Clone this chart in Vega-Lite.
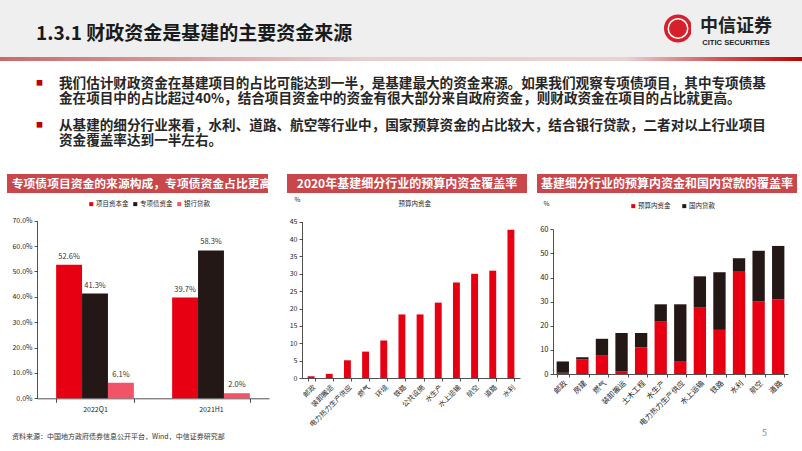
{
  "$schema": "https://vega.github.io/schema/vega-lite/v6.json",
  "padding": 0,
  "background": "white",
  "spacing": 0,
  "resolve": {"scale": {"color": "independent"}, "legend": {"color": "independent"}},
  "config": {
    "font": "Noto Sans CJK SC",
    "view": {"stroke": null},
    "axis": {"labelFontSize": 7, "labelColor": "#262626", "domainColor": "#262626", "tickColor": "#262626", "tickSize": 3, "domainWidth": 0.8, "tickWidth": 0.8, "grid": false, "labelFont": "Noto Sans CJK SC", "titleFont": "Noto Sans CJK SC", "labelPadding": 2},
    "legend": {"labelFontSize": 6.5, "symbolSize": 16, "symbolType": "square", "labelOffset": 1.5, "columnPadding": 3, "padding": 0, "direction": "horizontal", "symbolStrokeWidth": 0, "labelColor": "#262626", "labelFont": "Noto Sans CJK SC"}
  },
  "vconcat": [
    {
      "hconcat": [
        {
          "width": 665, "height": 57, "view": {"fill": "#efefef", "stroke": null},
          "data": {"values": []}, "mark": "point", "encoding": {},
          "title": {"text": "1.3.1 财政资金是基建的主要资金来源", "orient": "bottom", "anchor": "start", "frame": "group", "dx": 36, "offset": -16.6, "baseline": "alphabetic", "fontSize": 19, "fontWeight": "bold", "color": "#1a1a1a"}
        },
        {
          "width": 26, "height": 57, "view": {"fill": "#efefef", "stroke": null},
          "data": {"values": [{"logo": "CITIC"}]},
          "layer": [
            {"mark": {"type": "point", "filled": true, "size": 784, "color": "#d4212b", "opacity": 1}, "encoding": {}},
            {"mark": {"type": "point", "filled": false, "size": 380, "stroke": "white", "strokeWidth": 1.5, "opacity": 1}, "encoding": {}}
          ]
        },
        {
          "width": 90, "height": 57, "view": {"fill": "#efefef", "stroke": null},
          "data": {"values": []}, "mark": "point", "encoding": {},
          "title": {"text": "中信证券", "subtitle": "CITIC SECURITIES", "orient": "bottom", "anchor": "middle", "frame": "group", "offset": -25.2, "baseline": "alphabetic", "fontSize": 18, "fontWeight": "bold", "color": "#222222", "subtitleFont": "Liberation Sans", "subtitleFontSize": 7.6, "subtitleFontWeight": "bold", "subtitleColor": "#222222", "subtitlePadding": -5}
        },
        {"width": 21, "height": 57, "view": {"fill": "#efefef", "stroke": null}, "data": {"values": []}, "mark": "point", "encoding": {}}
      ],
      "spacing": 0, "bounds": "flush"
    },
    {
      "width": 802, "height": 4,
      "view": {"stroke": null, "fill": {"gradient": "linear", "x1": 0, "x2": 1, "y1": 0, "y2": 0, "stops": [{"offset": 0, "color": "#c96a6a"}, {"offset": 0.45, "color": "#e6cfcf"}, {"offset": 0.78, "color": "#e8d2d2"}, {"offset": 0.9, "color": "#d25050"}, {"offset": 1, "color": "#c00000"}]}},
      "data": {"values": []}, "mark": "point", "encoding": {}
    },
    {
      "hconcat": [
        {
          "width": 59, "height": 48, "view": {"stroke": null},
          "data": {"values": []}, "mark": "point", "encoding": {},
          "title": {"text": "■", "orient": "bottom", "anchor": "start", "frame": "group", "dx": 36, "offset": -23.6, "baseline": "alphabetic", "fontSize": 7, "color": "#c00000"}
        },
        {
          "width": 743, "height": 48, "view": {"stroke": null},
          "data": {"values": []}, "mark": "point", "encoding": {},
          "title": {"text": ["我们估计财政资金在基建项目的占比可能达到一半，是基建最大的资金来源。如果我们观察专项债项目，其中专项债基", "金在项目中的占比超过40%，结合项目资金中的资金有很大部分来自政府资金，则财政资金在项目的占比就更高。"], "orient": "bottom", "anchor": "start", "frame": "group", "dx": 0, "offset": -20.8, "baseline": "alphabetic", "fontSize": 13.6, "lineHeight": 14.5, "fontWeight": "bold", "color": "#262626"}
        }
      ],
      "spacing": 0, "bounds": "flush"
    },
    {
      "hconcat": [
        {
          "width": 59, "height": 65, "view": {"stroke": null},
          "data": {"values": []}, "mark": "point", "encoding": {},
          "title": {"text": "■", "orient": "bottom", "anchor": "start", "frame": "group", "dx": 36, "offset": -46.6, "baseline": "alphabetic", "fontSize": 7, "color": "#c00000"}
        },
        {
          "width": 743, "height": 65, "view": {"stroke": null},
          "data": {"values": []}, "mark": "point", "encoding": {},
          "title": {"text": ["从基建的细分行业来看，水利、道路、航空等行业中，国家预算资金的占比较大，结合银行贷款，二者对以上行业项目", "资金覆盖率达到一半左右。"], "orient": "bottom", "anchor": "start", "frame": "group", "dx": 0, "offset": -43.8, "baseline": "alphabetic", "fontSize": 13.6, "lineHeight": 14.5, "fontWeight": "bold", "color": "#262626"}
        }
      ],
      "spacing": 0, "bounds": "flush"
    },
    {
      "hconcat": [
        {"width": 7, "height": 19, "data": {"values": []}, "mark": "point", "encoding": {}},
        {"width": 261, "height": 19, "view": {"fill": "#c9474b", "stroke": null}, "data": {"values": [{"t": "专项债项目资金的来源构成，专项债资金占比更高"}]}, "mark": {"type": "text", "color": "white", "fontSize": 11.8, "fontWeight": "bold", "dx": 4}, "encoding": {"text": {"field": "t"}}},
        {"width": 19, "height": 19, "data": {"values": []}, "mark": "point", "encoding": {}},
        {"width": 240, "height": 19, "view": {"fill": "#c9474b", "stroke": null}, "data": {"values": [{"t": "2020年基建细分行业的预算内资金覆盖率"}]}, "mark": {"type": "text", "color": "white", "fontSize": 12, "fontWeight": "bold"}, "encoding": {"text": {"field": "t"}}},
        {"width": 10, "height": 19, "data": {"values": []}, "mark": "point", "encoding": {}},
        {"width": 260, "height": 19, "view": {"fill": "#c9474b", "stroke": null}, "data": {"values": [{"t": "基建细分行业的预算内资金和国内贷款的覆盖率"}]}, "mark": {"type": "text", "color": "white", "fontSize": 12, "fontWeight": "bold"}, "encoding": {"text": {"field": "t"}}}
      ],
      "spacing": 0, "bounds": "flush"
    },
    {
      "hconcat": [
        {
          "width": 37, "height": 1, "data": {"values": []}, "mark": "point", "encoding": {},
          "title": {"text": "资料来源：中国地方政府债券信息公开平台，Wind，中信证券研究部", "orient": "bottom", "anchor": "start", "frame": "group", "dx": 12, "offset": 244.7, "baseline": "alphabetic", "fontSize": 7, "fontWeight": "normal", "color": "#333333"}
        },
        {
          "width": 232, "height": 205.3,
          "data": {"values": [
            {"period": "2022Q1", "source": "项目资本金", "share": 0.526},
            {"period": "2022Q1", "source": "专项债资金", "share": 0.413},
            {"period": "2022Q1", "source": "银行贷款", "share": 0.061},
            {"period": "2021H1", "source": "项目资本金", "share": 0.397},
            {"period": "2021H1", "source": "专项债资金", "share": 0.583},
            {"period": "2021H1", "source": "银行贷款", "share": 0.020}
          ]},
          "encoding": {
            "x": {"field": "period", "type": "nominal", "sort": ["2022Q1", "2021H1"], "scale": {"paddingInner": 0.33, "paddingOuter": 0.165}, "axis": {"title": null, "labelAngle": 0, "tickBand": "extent", "tickSize": 4, "labelPadding": 3}},
            "xOffset": {"field": "source", "type": "nominal", "sort": ["项目资本金", "专项债资金", "银行贷款"]},
            "y": {"field": "share", "type": "quantitative", "scale": {"domain": [0, 0.7], "range": [205.3, 27.7]}, "axis": {"title": null, "values": [0, 0.1, 0.2, 0.3, 0.4, 0.5, 0.6, 0.7], "format": ".1%"}}
          },
          "layer": [
            {"mark": {"type": "bar"}, "encoding": {"color": {"field": "source", "type": "nominal", "scale": {"domain": ["项目资本金", "专项债资金", "银行贷款"], "range": ["#e60012", "#231815", "#f25467"]}, "legend": {"title": null, "orient": "none", "legendX": 51, "legendY": 7.75}}}},
            {"mark": {"type": "text", "baseline": "bottom", "dy": -4, "fontSize": 7.5, "color": "#333333"}, "encoding": {"text": {"field": "share", "type": "quantitative", "format": ".1%"}}}
          ]
        },
        {
          "width": 33, "height": 1, "data": {"values": []}, "mark": "point", "encoding": {}
        },
        {
          "width": 218, "height": 185,
          "data": {"values": [
            {"industry": "邮政", "value": 0.5},
            {"industry": "装卸搬运", "value": 1.2},
            {"industry": "电力热力生产供应", "value": 5.1},
            {"industry": "燃气", "value": 7.6},
            {"industry": "环境", "value": 10.8},
            {"industry": "铁路", "value": 18.3},
            {"industry": "公共设施", "value": 18.3},
            {"industry": "水生产", "value": 21.7},
            {"industry": "水上运输", "value": 27.5},
            {"industry": "航空", "value": 30.0},
            {"industry": "道路", "value": 30.9},
            {"industry": "水利", "value": 42.7}
          ]},
          "mark": {"type": "bar"},
          "encoding": {
            "x": {"field": "industry", "type": "nominal", "sort": ["邮政", "装卸搬运", "电力热力生产供应", "燃气", "环境", "铁路", "公共设施", "水生产", "水上运输", "航空", "道路", "水利"], "scale": {"paddingInner": 0.62, "paddingOuter": 0.31}, "axis": {"title": null, "labelAngle": -45, "tickBand": "extent", "labelFontSize": 7}},
            "y": {"field": "value", "type": "quantitative", "scale": {"domain": [0, 45], "range": [185, 28.7]}, "axis": {"values": [0, 5, 10, 15, 20, 25, 30, 35, 40, 45], "title": "%", "titleAngle": 0, "titleX": -8, "titleY": 6, "titleAlign": "left", "titleBaseline": "middle", "titleFontSize": 6.5, "titleFontWeight": "normal", "titleColor": "#262626"}},
            "color": {"datum": "预算内资金", "type": "nominal", "scale": {"domain": ["预算内资金"], "range": ["#e60012"]}, "legend": {"title": null, "orient": "none", "legendX": 90, "legendY": 7.75, "symbolOpacity": 0, "symbolSize": 0, "labelOffset": 0}}
          }
        },
        {
          "width": 33, "height": 1, "data": {"values": []}, "mark": "point", "encoding": {},
          "title": {"text": "5", "orient": "bottom", "anchor": "start", "frame": "group", "dx": 242, "offset": 242.2, "baseline": "alphabetic", "fontSize": 9, "fontWeight": "normal", "color": "#888888"}
        },
        {
          "width": 235, "height": 181,
          "data": {"values": [
            {"industry": "邮政", "type": "预算内资金", "value": 0.5},
            {"industry": "邮政", "type": "国内贷款", "value": 4.7},
            {"industry": "房建", "type": "预算内资金", "value": 6.0},
            {"industry": "房建", "type": "国内贷款", "value": 0.9},
            {"industry": "燃气", "type": "预算内资金", "value": 7.6},
            {"industry": "燃气", "type": "国内贷款", "value": 7.0},
            {"industry": "装卸搬运", "type": "预算内资金", "value": 1.2},
            {"industry": "装卸搬运", "type": "国内贷款", "value": 15.8},
            {"industry": "土木工程", "type": "预算内资金", "value": 11.0},
            {"industry": "土木工程", "type": "国内贷款", "value": 6.0},
            {"industry": "水生产", "type": "预算内资金", "value": 21.7},
            {"industry": "水生产", "type": "国内贷款", "value": 7.2},
            {"industry": "电力热力生产供应", "type": "预算内资金", "value": 5.1},
            {"industry": "电力热力生产供应", "type": "国内贷款", "value": 23.8},
            {"industry": "水上运输", "type": "预算内资金", "value": 27.5},
            {"industry": "水上运输", "type": "国内贷款", "value": 13.0},
            {"industry": "铁路", "type": "预算内资金", "value": 18.3},
            {"industry": "铁路", "type": "国内贷款", "value": 23.9},
            {"industry": "水利", "type": "预算内资金", "value": 42.7},
            {"industry": "水利", "type": "国内贷款", "value": 5.3},
            {"industry": "航空", "type": "预算内资金", "value": 30.0},
            {"industry": "航空", "type": "国内贷款", "value": 21.1},
            {"industry": "道路", "type": "预算内资金", "value": 30.9},
            {"industry": "道路", "type": "国内贷款", "value": 22.2}
          ]},
          "mark": {"type": "bar"},
          "encoding": {
            "x": {"field": "industry", "type": "nominal", "sort": ["邮政", "房建", "燃气", "装卸搬运", "土木工程", "水生产", "电力热力生产供应", "水上运输", "铁路", "水利", "航空", "道路"], "scale": {"paddingInner": 0.37, "paddingOuter": 0.185}, "axis": {"title": null, "labelAngle": -45, "tickBand": "extent", "labelFontSize": 7.5}},
            "y": {"field": "value", "type": "quantitative", "stack": "zero", "scale": {"domain": [0, 60], "range": [181, 36.3]}, "axis": {"values": [0, 10, 20, 30, 40, 50, 60], "labelFontSize": 7.5, "title": "%", "titleAngle": 0, "titleX": -10, "titleY": 10, "titleAlign": "left", "titleBaseline": "middle", "titleFontSize": 6.5, "titleFontWeight": "normal", "titleColor": "#262626"}},
            "color": {"field": "type", "type": "nominal", "scale": {"domain": ["预算内资金", "国内贷款"], "range": ["#e60012", "#231815"]}, "legend": {"title": null, "orient": "none", "legendX": 77, "legendY": 9.75, "columnPadding": 10}},
            "order": {"field": "type", "sort": "descending"}
          }
        }
      ],
      "spacing": 0, "bounds": "flush",
      "resolve": {"scale": {"color": "independent"}, "legend": {"color": "independent"}}
    }
  ]
}
